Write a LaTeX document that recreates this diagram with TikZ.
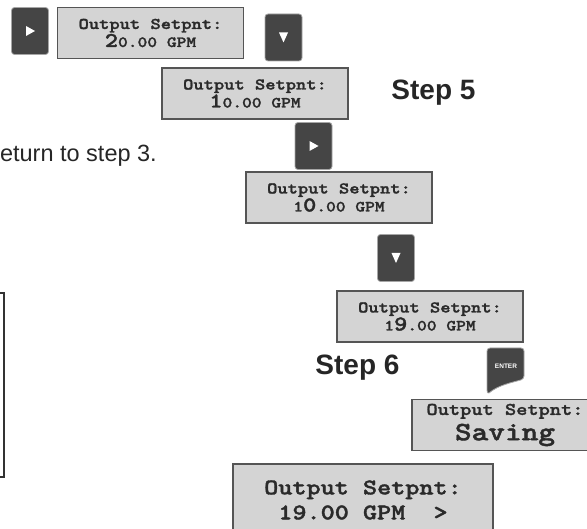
\documentclass[tikz,border=0pt]{standalone}
\usepackage{fontspec}
\setmainfont{Liberation Sans}
\newfontfamily\lcdfont{lmmonolt10-bold.otf}[FakeStretch=1.2,FakeBold=1.6]
\definecolor{lcdgray}{HTML}{D4D4D4}
\definecolor{lcdedge}{HTML}{555555}
\definecolor{keygray}{HTML}{454545}
\definecolor{lcdtext}{HTML}{2A2A2A}
\newcommand{\bigdigit}[1]{{\fontsize{21}{18}\selectfont #1}}
\newcommand{\lcdsmall}{\fontsize{15.5}{18}\selectfont}

\begin{document}
\begin{tikzpicture}[x=1pt,y=1pt,yscale=-1,
  lcd/.style={draw=lcdedge,fill=lcdgray,line width=1.3pt,minimum width=186pt,minimum height=51pt,inner sep=0pt,align=center,text=lcdtext,font=\lcdfont\fontsize{16.3}{18}\selectfont},
  key/.style={draw=black!35,fill=keygray,line width=0.8pt,rounded corners=3pt,minimum width=37pt,minimum height=47pt,inner sep=0pt},
  steplabel/.style={font=\bfseries\fontsize{28}{30}\selectfont,text=black!85}]
\useasboundingbox (0,0) rectangle (587,529);

%Shape: Frame (left, cut off)
\draw [draw=black!80,line width=2pt] (-5,293) -- (4,293) -- (4,477) -- (-5,477) ;

% Text Node
\node [anchor=base east,inner sep=0pt,font=\fontsize{23.5}{25}\selectfont,text=black!85] (ret) at (157,162) {eturn to step 3.};

%Shape: Key right
\node [key] (rightA) at (30,31) {};
\fill [white] (rightA.center) ++(-4,-5) -- ++(9,5) -- ++(-9,5) -- cycle ;
%Shape: Display 1
\node [lcd] (setA) at (150.5,33) {Output Setpnt:\\ \lcdsmall\bigdigit{2}0.00 GPM};
%Shape: Key down
\node [key] (downA) at (283.5,37.5) {};
\fill [white] (downA.center) ++(-4.5,-5) -- ++(9,0) -- ++(-4.5,10) -- cycle ;
%Shape: Display 2
\node [lcd] (setB) at (255,93.5) {Output Setpnt:\\ \lcdsmall\bigdigit{1}0.00 GPM};

% Text Node
\node [steplabel] (stepFive) at (433.5,93) {Step 5};

%Shape: Key right
\node [key] (rightB) at (313.5,146) {};
\fill [white] (rightB.center) ++(-4,-5) -- ++(9,5) -- ++(-9,5) -- cycle ;
%Shape: Display 3
\node [lcd] (setC) at (339,197.5) {Output Setpnt:\\ \lcdsmall 1\bigdigit{0}.00 GPM};
%Shape: Key down
\node [key] (downB) at (396,258) {};
\fill [white] (downB.center) ++(-4.5,-5) -- ++(9,0) -- ++(-4.5,10) -- cycle ;
%Shape: Display 4
\node [lcd] (setD) at (430,316.5) {Output Setpnt:\\ \lcdsmall 1\bigdigit{9}.00 GPM};

% Text Node
\node [steplabel] (stepSix) at (357.5,368) {Step 6};

%Shape: Key enter
\draw [draw=black!35,fill=keygray,line width=0.8pt] (487,390) [rounded corners=3pt] -- (487,348) -- (524,348) -- (524,379) [sharp corners] .. controls (514,382) and (498,385) .. (489,393) .. controls (487.5,394) and (487,392) .. (487,390) -- cycle ;
\node [text=white,font=\bfseries\fontsize{6.5}{7}\selectfont,inner sep=0pt] (enter) at (506,366) {ENTER};

%Shape: Display 5
\node [lcd] (saving) at (505,425) {\fontsize{17.8}{20}\selectfont Output Setpnt:\\[4pt] \fontsize{26.5}{23}\selectfont Saving};

%Shape: Display 6
\node [lcd,minimum width=260pt,minimum height=72pt,font=\lcdfont\fontsize{22.4}{25}\selectfont] (result) at (363,500) {Output Setpnt:\\ 19.00 GPM\ \ >};

\end{tikzpicture}
\end{document}
